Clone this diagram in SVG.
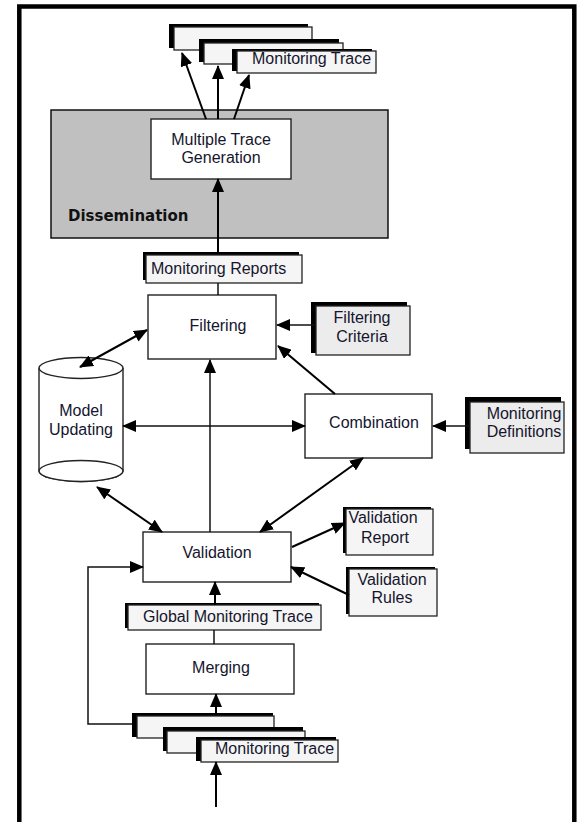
<svg xmlns="http://www.w3.org/2000/svg" width="578" height="822" viewBox="0 0 578 822">
  <defs>
    <marker id="head" markerUnits="userSpaceOnUse" markerWidth="14" markerHeight="12" refX="13" refY="6" orient="auto-start-reverse">
      <path d="M0,0 L14,6 L0,12 z" fill="#000"/>
    </marker>
    <style>
      .frame { fill: none; stroke: #000; stroke-width: 4.5; }
      .box { fill: #fff; stroke: #222; stroke-width: 1.4; }
      .group { fill: #c0c0c0; stroke: #111; stroke-width: 1.5; }
      .shadow { fill: #000; }
      .doc { fill: #f5f5f5; stroke: #222; stroke-width: 1.3; }
      .doc2 { fill: #ececec; stroke: #222; stroke-width: 1.3; }
      .lbl { font-family: "Liberation Sans", Arial, sans-serif; font-size: 16px; fill: #15152e; }
      .c { text-anchor: middle; }
      .bold { font-family: "DejaVu Sans", Verdana, sans-serif; font-size: 15px; font-weight: bold; fill: #111; }
      .link { fill: none; stroke: #000; stroke-width: 2; }
      .thin { fill: none; stroke: #111; stroke-width: 1.5; }
      .arrow { marker-end: url(#head); }
      .both { marker-start: url(#head); marker-end: url(#head); }
    </style>
  </defs>

  <rect class="frame" x="19.3" y="6.5" width="555" height="840"/>

  <!-- Dissemination area -->
  <g id="dissemination">
    <rect class="group" x="51" y="110" width="337" height="128"/>
    <text class="bold" x="68" y="221">Dissemination</text>
  </g>

  <!-- output traces -->
  <g id="out-traces">
    <rect class="shadow" x="169" y="24" width="139" height="24"/>
    <rect class="doc" x="174" y="27" width="138" height="23"/>
    <rect class="shadow" x="199" y="39" width="140" height="23"/>
    <rect class="doc" x="204" y="43" width="139" height="21"/>
    <rect class="shadow" x="232" y="49" width="140" height="22"/>
    <rect class="doc" x="237" y="51" width="139" height="22"/>
    <text class="lbl" x="252" y="64">Monitoring Trace</text>
  </g>

  <g id="multiple-trace-generation">
    <rect class="box" x="151" y="119" width="140" height="60"/>
    <text class="lbl c" x="221" y="145">Multiple Trace</text>
    <text class="lbl c" x="221" y="163">Generation</text>
  </g>

  <g id="monitoring-reports">
    <rect class="shadow" x="143" y="252" width="156" height="28"/>
    <rect class="doc" x="146" y="255" width="156" height="28"/>
    <text class="lbl" x="151" y="274">Monitoring Reports</text>
  </g>

  <g id="filtering">
    <rect class="box" x="148" y="295" width="128" height="64"/>
    <text class="lbl c" x="218" y="331">Filtering</text>
  </g>

  <g id="filtering-criteria">
    <rect class="shadow" x="311" y="302" width="96" height="51"/>
    <rect class="doc2" x="316" y="306" width="94" height="49"/>
    <text class="lbl c" x="362" y="323">Filtering</text>
    <text class="lbl c" x="362" y="342">Criteria</text>
  </g>

  <g id="model-updating">
    <path class="box" d="M39,368 L39,471 A42,10.5 0 0 0 123,471 L123,368"/>
    <ellipse class="box" cx="81" cy="368" rx="42" ry="10.5"/>
    <ellipse class="box" cx="81" cy="471" rx="42" ry="10.5"/>
    <text class="lbl c" x="81" y="416">Model</text>
    <text class="lbl c" x="81" y="435">Updating</text>
  </g>

  <g id="combination">
    <rect class="box" x="305" y="394" width="127" height="64"/>
    <text class="lbl c" x="374" y="428">Combination</text>
  </g>

  <g id="monitoring-definitions">
    <rect class="shadow" x="465" y="397" width="96" height="52"/>
    <rect class="doc2" x="470" y="402" width="94" height="51"/>
    <text class="lbl c" x="524" y="419">Monitoring</text>
    <text class="lbl c" x="524" y="437">Definitions</text>
  </g>

  <g id="validation">
    <rect class="box" x="143" y="532" width="148" height="50"/>
    <text class="lbl c" x="217" y="558">Validation</text>
  </g>

  <g id="validation-report">
    <rect class="shadow" x="343" y="507" width="88" height="46"/>
    <rect class="doc" x="346" y="509" width="87" height="46"/>
    <text class="lbl c" x="383" y="523">Validation</text>
    <text class="lbl c" x="385" y="543">Report</text>
  </g>

  <g id="validation-rules">
    <rect class="shadow" x="346" y="567" width="89" height="47"/>
    <rect class="doc" x="349" y="569" width="88" height="47"/>
    <text class="lbl c" x="392" y="585">Validation</text>
    <text class="lbl c" x="392" y="603">Rules</text>
  </g>

  <g id="global-monitoring-trace">
    <rect class="shadow" x="125" y="603" width="194" height="25"/>
    <rect class="doc" x="128" y="605" width="193" height="25"/>
    <text class="lbl" x="143" y="622">Global Monitoring Trace</text>
  </g>

  <g id="merging">
    <rect class="box" x="146" y="644" width="148" height="50"/>
    <text class="lbl c" x="221" y="673">Merging</text>
  </g>

  <g id="in-traces">
    <rect class="shadow" x="132" y="713" width="141" height="24"/>
    <rect class="doc" x="137" y="716" width="137" height="22"/>
    <rect class="shadow" x="163" y="727" width="140" height="24"/>
    <rect class="doc" x="167" y="731" width="138" height="22"/>
    <rect class="shadow" x="196" y="737" width="140" height="24"/>
    <rect class="doc" x="201" y="740" width="137" height="22"/>
    <text class="lbl" x="215" y="754">Monitoring Trace</text>
  </g>

  <!-- connectors, drawn over the shapes so heads stay visible -->
  <g id="connectors">
    <line class="link arrow" x1="206" y1="119" x2="182" y2="53"/>
    <line class="link arrow" x1="218" y1="119" x2="218" y2="66"/>
    <line class="link arrow" x1="234" y1="119" x2="249" y2="75"/>
    <line class="link arrow" x1="218" y1="252" x2="218" y2="179"/>
    <line class="thin" x1="218" y1="295" x2="218" y2="283"/>
    <line class="thin arrow" x1="316" y1="325" x2="277" y2="325"/>
    <line class="link both" x1="80" y1="367" x2="147" y2="330"/>
    <line class="link arrow" x1="335" y1="394" x2="278" y2="346"/>
    <line class="thin both" x1="123" y1="426" x2="305" y2="426"/>
    <line class="thin arrow" x1="210" y1="532" x2="210" y2="360"/>
    <line class="thin arrow" x1="470" y1="426" x2="433" y2="426"/>
    <line class="link both" x1="97" y1="487" x2="162" y2="532"/>
    <line class="link both" x1="260" y1="532" x2="363" y2="458"/>
    <line class="link arrow" x1="292" y1="547" x2="345" y2="523"/>
    <line class="link arrow" x1="349" y1="595" x2="291" y2="567"/>
    <line class="link arrow" x1="215" y1="605" x2="215" y2="582"/>
    <line class="thin" x1="214" y1="644" x2="214" y2="630"/>
    <line class="link arrow" x1="216" y1="713" x2="216" y2="694"/>
    <line class="link arrow" x1="216" y1="807" x2="216" y2="762"/>
    <polyline class="thin arrow" points="132,724 88,724 88,567 143,567"/>
  </g>
</svg>
